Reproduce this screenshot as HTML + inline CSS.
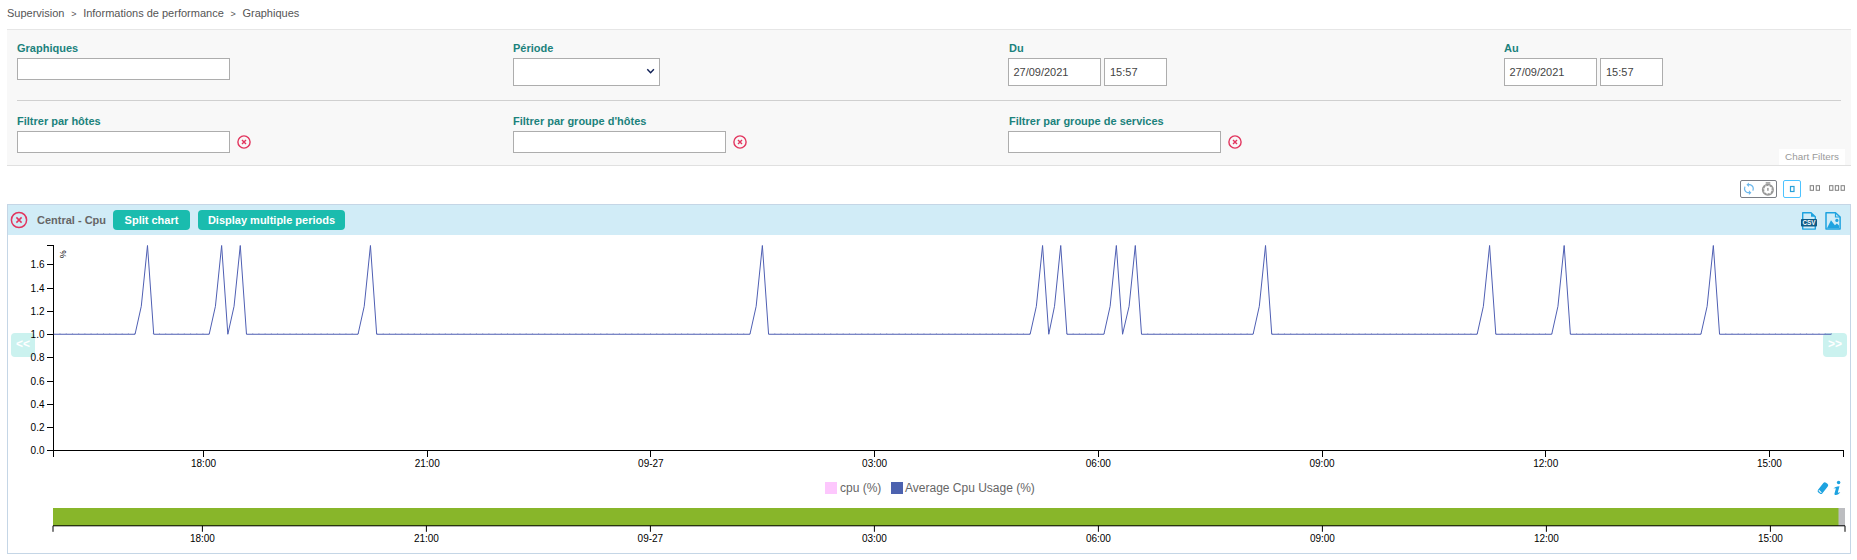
<!DOCTYPE html>
<html><head><meta charset="utf-8"><title>Graphiques</title>
<style>
html,body{margin:0;padding:0;background:#fff;}
body{width:1857px;height:560px;position:relative;overflow:hidden;font-family:"Liberation Sans",sans-serif;font-size:11px;color:#555;}
.abs{position:absolute;}
.bc{left:7px;top:7px;line-height:13px;font-size:11px;color:#555;white-space:pre;}
.panel{left:7px;top:29px;width:1844px;height:135px;background:#f8f8f8;border-top:1px solid #e6e6e6;border-bottom:1px solid #e0e0e0;box-sizing:content-box;}
.lbl{font-weight:bold;font-size:11px;line-height:13px;color:#1b827c;white-space:nowrap;}
.inp{box-sizing:border-box;background:#fff;border:1px solid #adadad;font-size:11px;color:#444;line-height:26px;padding-left:5px;white-space:nowrap;}
.hr{left:17px;top:100px;width:1824px;height:1px;background:#d0d0d0;}
.tab{left:1779px;top:149px;width:66px;height:16px;background:#fff;color:#999;font-size:9.9px;line-height:16.8px;text-align:center;}
.chart{left:7px;top:204px;width:1842px;height:348px;border:1px solid #c5d6e6;background:#fff;}
.chead{left:8px;top:205px;width:1842px;height:30px;background:#d1ecf7;}
.btn{top:210px;height:20px;line-height:20px;border-radius:4px;background:#1abcae;color:#fff;font-weight:bold;font-size:11px;text-align:center;white-space:nowrap;}
.nav{width:24px;height:24px;top:333px;border-radius:4px;background:#cbf2ef;color:#fff;font-weight:bold;font-size:12px;line-height:23.6px;text-align:center;}
.gt{font-size:9px;padding:0 0.58px;vertical-align:0.3px;line-height:1px;}
svg text{font-family:"Liberation Sans",sans-serif;}
</style></head><body>
<div class="abs bc">Supervision  <span class="gt">&gt;</span>  Informations de performance  <span class="gt">&gt;</span>  Graphiques</div>
<div class="abs panel"></div>
<div class="abs lbl" style="left:17px;top:42px">Graphiques</div>
<div class="abs inp" style="left:17px;top:58px;width:213px;height:22px"></div>
<div class="abs lbl" style="left:513px;top:42px">Période</div>
<div class="abs inp" style="left:513px;top:58px;width:147px;height:28px"></div>
<div class="abs lbl" style="left:1009px;top:42px">Du</div>
<div class="abs inp" style="left:1008px;top:58px;width:93px;height:28px;padding-left:4.4px">27/09/2021</div>
<div class="abs inp" style="left:1104px;top:58px;width:63px;height:28px">15:57</div>
<div class="abs lbl" style="left:1504px;top:42px">Au</div>
<div class="abs inp" style="left:1504px;top:58px;width:93px;height:28px;padding-left:4.4px">27/09/2021</div>
<div class="abs inp" style="left:1600px;top:58px;width:63px;height:28px">15:57</div>
<div class="abs hr"></div>
<div class="abs lbl" style="left:17px;top:115px">Filtrer par hôtes</div>
<div class="abs inp" style="left:17px;top:131px;width:213px;height:22px"></div>
<div class="abs lbl" style="left:513px;top:115px">Filtrer par groupe d'hôtes</div>
<div class="abs inp" style="left:513px;top:131px;width:213px;height:22px"></div>
<div class="abs lbl" style="left:1009px;top:115px">Filtrer par groupe de services</div>
<div class="abs inp" style="left:1008px;top:131px;width:213px;height:22px"></div>
<div class="abs tab">Chart Filters</div>
<div class="abs chart"></div>
<div class="abs chead"></div>
<div class="abs" style="left:37px;top:213px;font-size:11px;line-height:14px;color:#666;font-weight:bold;white-space:nowrap;">Central - Cpu</div>
<div class="abs btn" style="left:113px;width:77px">Split chart</div>
<div class="abs btn" style="left:198px;width:147px">Display multiple periods</div>
<div class="abs nav" style="left:11px">&lt;&lt;</div>
<div class="abs nav" style="left:1823px">&gt;&gt;</div>
<svg class="abs" style="left:0;top:0" width="1857" height="560" viewBox="0 0 1857 560" font-size="10" fill="#000">
<!-- select chevron -->
<path d="M647.3,69.2l3.3,3.6l3.3,-3.6" fill="none" stroke="#0f1f55" stroke-width="1.4"/>
<!-- red clear icons -->
<circle cx="244" cy="142" r="6.1" fill="none" stroke="#e2355e" stroke-width="1.4"/><path d="M242.0,140.0L246.0,144.0M246.0,140.0L242.0,144.0" stroke="#e2355e" stroke-width="1.4" fill="none"/><circle cx="740" cy="142" r="6.1" fill="none" stroke="#e2355e" stroke-width="1.4"/><path d="M738.0,140.0L742.0,144.0M742.0,140.0L738.0,144.0" stroke="#e2355e" stroke-width="1.4" fill="none"/><circle cx="1235" cy="142" r="6.1" fill="none" stroke="#e2355e" stroke-width="1.4"/><path d="M1233.0,140.0L1237.0,144.0M1237.0,140.0L1233.0,144.0" stroke="#e2355e" stroke-width="1.4" fill="none"/><circle cx="19" cy="220" r="7.6" fill="none" stroke="#e2355e" stroke-width="1.5"/><path d="M16.4,217.4L21.6,222.6M21.6,217.4L16.4,222.6" stroke="#e2355e" stroke-width="1.5" fill="none"/>
<!-- toolbar -->
<rect x="1740.5" y="180.5" width="36" height="17" rx="1.5" fill="#fff" stroke="#7b7e85"/>
<g transform="translate(1748.9,188.65) scale(0.625,0.568) translate(-12,-12)"><path fill="#6db8ec" d="M12 4V1L8 5l4 4V6c3.31 0 6 2.69 6 6 0 1.01-.25 1.97-.7 2.8l1.46 1.46C19.54 15.03 20 13.57 20 12c0-4.42-3.58-8-8-8zm0 14c-3.31 0-6-2.69-6-6 0-1.01.25-1.97.7-2.8L5.24 7.74C4.46 8.97 4 10.43 4 12c0 4.42 3.58 8 8 8v3l4-4-4-4v3z"/></g>
<g fill="none"><circle cx="1767.9" cy="189.7" r="4.85" stroke="#989898" stroke-width="2.4"/><circle cx="1767.9" cy="189.7" r="4.0" stroke="#fff" stroke-width="1.3" stroke-dasharray="1.2 1.9416" opacity="0.75"/></g>
<rect x="1765.7" y="182.2" width="4.6" height="1.5" fill="#9a9a9a"/><rect x="1767.15" y="187.9" width="1.5" height="2.9" fill="#9a9a9a"/>
<rect x="1783.5" y="180.5" width="17" height="17" rx="1.5" fill="#fff" stroke="#4dc3ff"/>
<rect x="1790.5" y="186.5" width="3.5" height="5" fill="none" stroke="#29a0d8" stroke-width="1.2"/>
<g fill="none" stroke="#808080">
<rect x="1810.2" y="185.7" width="3.3" height="4.6"/><rect x="1816.2" y="185.7" width="3.3" height="4.6"/>
<rect x="1829.6" y="185.7" width="3.3" height="4.6"/><rect x="1835.3" y="185.7" width="3.3" height="4.6"/><rect x="1841.1" y="185.7" width="3.3" height="4.6"/>
</g>
<!-- csv icon -->
<path d="M1802.7,212.7h8.3l4.3,4v12.4h-12.6z" fill="#d1ecf7" stroke="#1ea3e0" stroke-width="1.4" stroke-linejoin="round"/>
<path d="M1811,212.7v4h4.3z" fill="#1ea3e0"/>
<rect x="1801" y="219" width="16" height="7.6" rx="0.8" fill="#0d5a86"/>
<text x="1809" y="225.4" text-anchor="middle" font-size="7" font-weight="bold" fill="#fff" textLength="13" lengthAdjust="spacingAndGlyphs">CSV</text>
<!-- image icon -->
<path d="M1826,212.8h9.5l4.6,4.2v12h-14.1z" fill="none" stroke="#1ea3e0" stroke-width="1.5" stroke-linejoin="round"/>
<path d="M1835.5,212.8v4.2h4.6" fill="none" stroke="#1ea3e0" stroke-width="1.2"/>
<path d="M1827,228.2L1831,220.2L1834.9,225.2L1836.9,223.5L1839,225.6V228.2z" fill="#1ea3e0"/>
<circle cx="1836.9" cy="220.4" r="1.6" fill="#1ea3e0"/>
<!-- chart -->
<rect x="47" y="245" width="7" height="1" fill="#000"/><rect x="53" y="245" width="1" height="206" fill="#000"/>
<rect x="47" y="450" width="7" height="1" fill="#000"/><text x="44.5" y="454.10" text-anchor="end">0.0</text><rect x="47" y="427" width="7" height="1" fill="#000"/><text x="44.5" y="431.10" text-anchor="end">0.2</text><rect x="47" y="404" width="7" height="1" fill="#000"/><text x="44.5" y="408.10" text-anchor="end">0.4</text><rect x="47" y="381" width="7" height="1" fill="#000"/><text x="44.5" y="385.10" text-anchor="end">0.6</text><rect x="47" y="357" width="7" height="1" fill="#000"/><text x="44.5" y="361.10" text-anchor="end">0.8</text><rect x="47" y="334" width="7" height="1" fill="#000"/><text x="44.5" y="338.10" text-anchor="end">1.0</text><rect x="47" y="311" width="7" height="1" fill="#000"/><text x="44.5" y="315.10" text-anchor="end">1.2</text><rect x="47" y="288" width="7" height="1" fill="#000"/><text x="44.5" y="292.10" text-anchor="end">1.4</text><rect x="47" y="264" width="7" height="1" fill="#000"/><text x="44.5" y="268.10" text-anchor="end">1.6</text><path d="M53.50,456.50V450.50H1843.50V456.50" fill="none" stroke="#000" stroke-width="1" shape-rendering="crispEdges"/><line x1="203.50" x2="203.50" y1="450.50" y2="456.50" stroke="#000" shape-rendering="crispEdges"/><text x="203.50" y="466.60" text-anchor="middle">18:00</text><line x1="427.20" x2="427.20" y1="450.50" y2="456.50" stroke="#000" shape-rendering="crispEdges"/><text x="427.20" y="466.60" text-anchor="middle">21:00</text><line x1="650.90" x2="650.90" y1="450.50" y2="456.50" stroke="#000" shape-rendering="crispEdges"/><text x="650.90" y="466.60" text-anchor="middle">09-27</text><line x1="874.60" x2="874.60" y1="450.50" y2="456.50" stroke="#000" shape-rendering="crispEdges"/><text x="874.60" y="466.60" text-anchor="middle">03:00</text><line x1="1098.30" x2="1098.30" y1="450.50" y2="456.50" stroke="#000" shape-rendering="crispEdges"/><text x="1098.30" y="466.60" text-anchor="middle">06:00</text><line x1="1322.00" x2="1322.00" y1="450.50" y2="456.50" stroke="#000" shape-rendering="crispEdges"/><text x="1322.00" y="466.60" text-anchor="middle">09:00</text><line x1="1545.70" x2="1545.70" y1="450.50" y2="456.50" stroke="#000" shape-rendering="crispEdges"/><text x="1545.70" y="466.60" text-anchor="middle">12:00</text><line x1="1769.40" x2="1769.40" y1="450.50" y2="456.50" stroke="#000" shape-rendering="crispEdges"/><text x="1769.40" y="466.60" text-anchor="middle">15:00</text>
<text transform="translate(65.8,258.2) rotate(-90)" font-size="9">%</text>
<polyline points="53.81,334.25 135.06,334.25 141.27,306.30 147.49,245.50 153.71,334.25 209.19,334.25 215.41,306.30 221.63,245.50 227.84,334.25 234.06,306.30 240.27,245.50 246.49,334.25 358.02,334.25 364.23,306.30 370.45,245.50 376.66,334.25 749.94,334.25 756.16,306.30 762.37,245.50 768.59,334.25 1030.14,334.25 1036.35,306.30 1042.57,245.50 1048.78,334.25 1054.50,306.30 1060.72,245.50 1066.93,334.25 1103.92,334.25 1110.14,306.30 1116.35,245.50 1122.57,334.25 1129.09,306.30 1135.30,245.50 1141.52,334.25 1253.10,334.25 1259.31,306.30 1265.53,245.50 1271.74,334.25 1477.15,334.25 1483.37,306.30 1489.58,245.50 1495.80,334.25 1551.74,334.25 1557.95,306.30 1564.17,245.50 1570.38,334.25 1700.91,334.25 1707.13,306.30 1713.34,245.50 1719.56,334.25 1831.44,334.25" fill="none" stroke="#4f5fb3" stroke-width="1"/>
<line x1="53.31" x2="135.11" y1="333.5" y2="333.5" stroke="#4f5fb3" stroke-opacity="0.35" stroke-dasharray="1 5.21548"/><line x1="152.76" x2="209.69" y1="333.5" y2="333.5" stroke="#4f5fb3" stroke-opacity="0.35" stroke-dasharray="1 5.21548"/><line x1="245.99" x2="358.87" y1="333.5" y2="333.5" stroke="#4f5fb3" stroke-opacity="0.35" stroke-dasharray="1 5.21548"/><line x1="376.51" x2="750.44" y1="333.5" y2="333.5" stroke="#4f5fb3" stroke-opacity="0.35" stroke-dasharray="1 5.21548"/><line x1="768.09" x2="1030.14" y1="333.5" y2="333.5" stroke="#4f5fb3" stroke-opacity="0.35" stroke-dasharray="1 5.21548"/><line x1="1066.43" x2="1104.72" y1="333.5" y2="333.5" stroke="#4f5fb3" stroke-opacity="0.35" stroke-dasharray="1 5.21548"/><line x1="1141.02" x2="1253.90" y1="333.5" y2="333.5" stroke="#4f5fb3" stroke-opacity="0.35" stroke-dasharray="1 5.21548"/><line x1="1271.54" x2="1477.65" y1="333.5" y2="333.5" stroke="#4f5fb3" stroke-opacity="0.35" stroke-dasharray="1 5.21548"/><line x1="1495.30" x2="1552.24" y1="333.5" y2="333.5" stroke="#4f5fb3" stroke-opacity="0.35" stroke-dasharray="1 5.21548"/><line x1="1569.88" x2="1701.41" y1="333.5" y2="333.5" stroke="#4f5fb3" stroke-opacity="0.35" stroke-dasharray="1 5.21548"/><line x1="1719.06" x2="1831.94" y1="333.5" y2="333.5" stroke="#4f5fb3" stroke-opacity="0.35" stroke-dasharray="1 5.21548"/>
<!-- legend -->
<rect x="825" y="482" width="12" height="12" fill="#fdc7fd"/>
<text x="840" y="492" font-size="12" fill="#666">cpu (%)</text>
<rect x="891" y="482" width="12" height="12" fill="#4c62af"/>
<text x="905" y="492" font-size="12" fill="#666">Average Cpu Usage (%)</text>
<!-- eraser + info -->
<g transform="translate(1822.9,488.1) rotate(38)"><rect x="-2.8" y="-6.2" width="5.6" height="12.4" rx="1.9" fill="#1ea3e0"/><path d="M-1.9,4.2L1.7,4.6" stroke="#fff" stroke-width="1.1" opacity="0.9"/></g>
<circle cx="1838.6" cy="482.6" r="1.75" fill="#1ea3e0"/>
<path d="M1833.4,488.7C1834.5,487.4 1836.5,486.4 1839.5,486.2L1837.9,492.3C1837.8,493 1838.6,493 1840.3,492C1839.3,494 1837.3,495.1 1835.6,495C1834.6,494.9 1834.3,494.2 1834.5,493.4L1835.8,488.7C1835.9,488.1 1834.8,488.3 1833.4,488.7Z" fill="#1ea3e0"/>
<!-- brush/status bar -->
<rect x="53" y="508" width="1786" height="18" fill="#88b62a"/>
<rect x="1838.5" y="508" width="6.5" height="18" fill="#bcbdc0"/>
<path d="M53.00,531.80V525.80H1845.00V531.80" fill="none" stroke="#000" stroke-width="1"/><line x1="202.40" x2="202.40" y1="525.80" y2="531.80" stroke="#000"/><text x="202.40" y="541.90" text-anchor="middle">18:00</text><line x1="426.40" x2="426.40" y1="525.80" y2="531.80" stroke="#000"/><text x="426.40" y="541.90" text-anchor="middle">21:00</text><line x1="650.40" x2="650.40" y1="525.80" y2="531.80" stroke="#000"/><text x="650.40" y="541.90" text-anchor="middle">09-27</text><line x1="874.40" x2="874.40" y1="525.80" y2="531.80" stroke="#000"/><text x="874.40" y="541.90" text-anchor="middle">03:00</text><line x1="1098.40" x2="1098.40" y1="525.80" y2="531.80" stroke="#000"/><text x="1098.40" y="541.90" text-anchor="middle">06:00</text><line x1="1322.40" x2="1322.40" y1="525.80" y2="531.80" stroke="#000"/><text x="1322.40" y="541.90" text-anchor="middle">09:00</text><line x1="1546.40" x2="1546.40" y1="525.80" y2="531.80" stroke="#000"/><text x="1546.40" y="541.90" text-anchor="middle">12:00</text><line x1="1770.40" x2="1770.40" y1="525.80" y2="531.80" stroke="#000"/><text x="1770.40" y="541.90" text-anchor="middle">15:00</text>
</svg>
</body></html>
